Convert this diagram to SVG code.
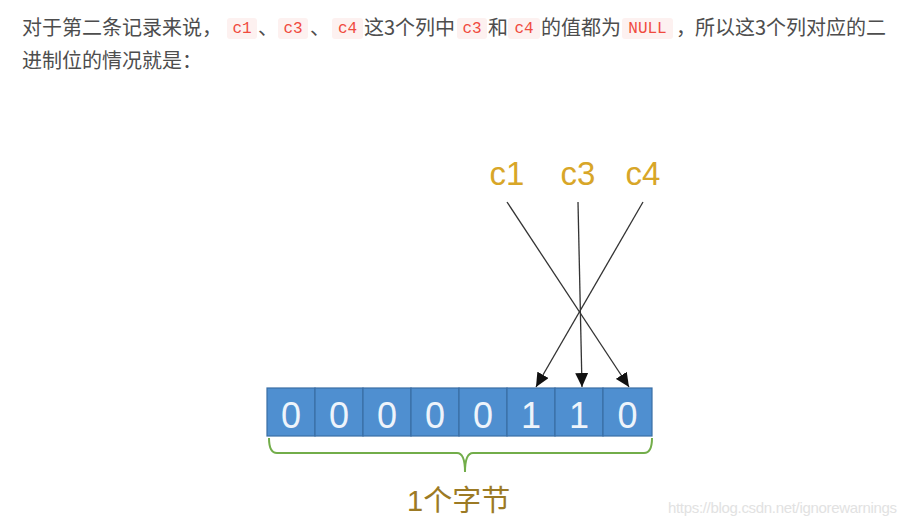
<svg xmlns="http://www.w3.org/2000/svg" width="907" height="517" viewBox="0 0 907 517">
<style>
.p{font-family:"Noto Sans CJK SC","Liberation Sans",sans-serif;font-size:20px;fill:#4d4d4d}
.cb{fill:#fdf1f0}
.ct{font-family:"Liberation Mono",monospace;font-size:16px;fill:#f04a3e;text-anchor:middle}
.lab{font-family:"Liberation Sans",sans-serif;font-size:33px;fill:#d8a628;text-anchor:middle}
.cell{fill:#4f8fd0;stroke:#3a6ea5;stroke-width:1.2}
.bit{font-family:"Liberation Sans",sans-serif;font-size:36px;fill:#eef4fb;text-anchor:middle}
.conn{stroke:#333;stroke-width:1.3;fill:none;marker-end:url(#ah)}
</style>
<defs>
<marker id="ah" markerUnits="userSpaceOnUse" markerWidth="15" markerHeight="13" refX="14" refY="6.5" orient="auto">
<path d="M0,0 L14,6.5 L0,13 z" fill="#111"/>
</marker>
</defs>
<rect width="907" height="517" fill="#fff"/>
<g id="paragraph">
<text class="p" x="22" y="35">对于第二条记录来说，</text>
<rect class="cb" x="227" y="18" width="30" height="21" rx="3"/>
<text class="ct" x="242" y="33">c1</text>
<text class="p" x="258" y="35">、</text>
<rect class="cb" x="278" y="18" width="30" height="21" rx="3"/>
<text class="ct" x="293" y="33">c3</text>
<text class="p" x="310" y="35">、</text>
<rect class="cb" x="332" y="18" width="31" height="21" rx="3"/>
<text class="ct" x="347.5" y="33">c4</text>
<text class="p" x="364" y="35">这3个列中</text>
<rect class="cb" x="457" y="18" width="30" height="21" rx="3"/>
<text class="ct" x="472" y="33">c3</text>
<text class="p" x="488" y="35">和</text>
<rect class="cb" x="508" y="18" width="32" height="21" rx="3"/>
<text class="ct" x="524" y="33">c4</text>
<text class="p" x="541" y="35">的值都为</text>
<rect class="cb" x="622" y="18" width="51" height="21" rx="3"/>
<text class="ct" x="647.5" y="33">NULL</text>
<text class="p" x="676" y="35">，</text>
<text class="p" x="695" y="35">所以这3个列对应的二</text>
<text class="p" x="22" y="68">进制位的情况就是：</text>
</g>
<g id="label-c1"><text class="lab" x="507" y="185">c1</text></g>
<g id="label-c3"><text class="lab" x="578" y="185">c3</text></g>
<g id="label-c4"><text class="lab" x="643" y="185">c4</text></g>
<g id="byte">
<rect class="cell" x="267" y="388" width="48" height="48"/>
<rect class="cell" x="315" y="388" width="48" height="48"/>
<rect class="cell" x="363" y="388" width="48" height="48"/>
<rect class="cell" x="411" y="388" width="48" height="48"/>
<rect class="cell" x="459" y="388" width="48" height="48"/>
<rect class="cell" x="507" y="388" width="48" height="48"/>
<rect class="cell" x="555" y="388" width="48" height="48"/>
<rect class="cell" x="603" y="388" width="49" height="48"/>
<text class="bit" x="291" y="428">0</text>
<text class="bit" x="339" y="428">0</text>
<text class="bit" x="387" y="428">0</text>
<text class="bit" x="435" y="428">0</text>
<text class="bit" x="483" y="428">0</text>
<text class="bit" x="531" y="428">1</text>
<text class="bit" x="579" y="428">1</text>
<text class="bit" x="627.5" y="428">0</text>
</g>
<g id="brace">
<path d="M269,438 Q269,453 277,453 L457,453 Q465,453 465,472 Q465,453 473,453 L644,453 Q652,453 652,438" fill="none" stroke="#72ad4a" stroke-width="2"/>
</g>
<g id="byte-label">
<text x="407" y="511" font-family="Liberation Sans, Noto Sans CJK SC, sans-serif" font-size="29" fill="#9c7a24">1个字节</text>
</g>
<g id="connectors">
<line class="conn" x1="507" y1="202" x2="629" y2="387"/>
<line class="conn" x1="578" y1="202" x2="582" y2="387"/>
<line class="conn" x1="643" y1="202" x2="536" y2="387"/>
</g>
<text x="668" y="513" font-family="Liberation Sans, sans-serif" font-size="15" fill="#e2e2e2" textLength="229">https://blog.csdn.net/ignorewarnings</text>
</svg>
